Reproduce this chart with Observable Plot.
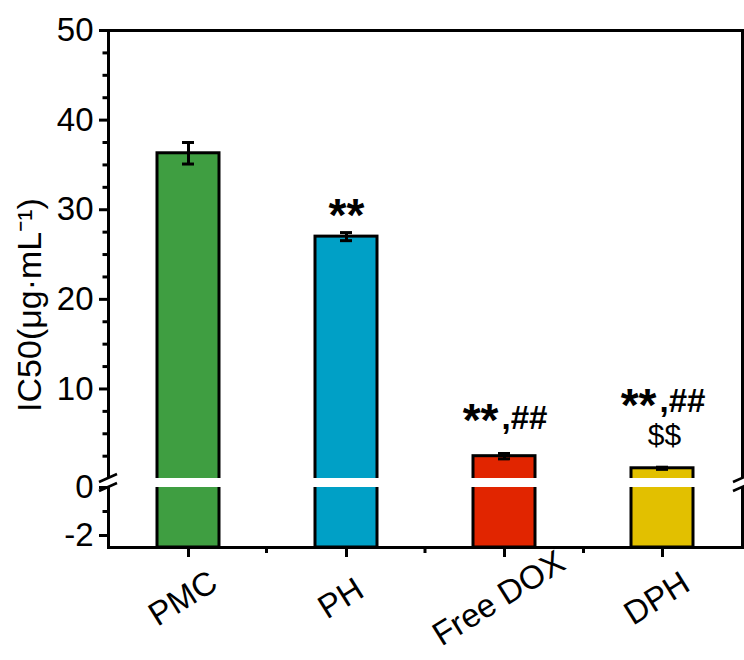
<!DOCTYPE html>
<html>
<head>
<meta charset="utf-8">
<script src="https://cdn.jsdelivr.net/npm/d3@7"></script>
<script src="https://cdn.jsdelivr.net/npm/@observablehq/plot@0.6"></script>
<style>
  html, body { margin: 0; padding: 0; background: #fff; }
</style>
</head>
<body>
<div id="chart"></div>
<script>
// ---- data ----
const categories = ["PMC", "PH", "Free DOX", "DPH"];
const ic50 = [36.3, 27.0, 2.5, 1.15];
const sd = [1.2, 0.45, 0.3, 0.12];
const barColors = ["#3f9e41", "#00a0c6", "#e12500", "#e2c000"];
const sigStars = ["", "**", "**", "**"];
const sigHash = ["", "", ",##", ",##"];
const sigDollar = ["", "", "", "$$"];
const yMajorTicks = [-2, 0, 10, 20, 30, 40, 50];
const yMinorTicks = [-1, 2.5, 5, 7.5, 12.5, 15, 17.5, 22.5, 25, 27.5, 32.5, 35, 37.5, 42.5, 45, 47.5];
const yLabel = "IC50(μg·mL⁻¹)";

// broken axis: lower segment [-2.5, 0], upper segment [0, 50]
const yMin = -2.5, yBreakLow = 0, yBreakHigh = 0.01, yMax = 50;

const rows = categories.map((c, i) => ({
  cat: c, value: ic50[i], err: sd[i], color: barColors[i],
  stars: sigStars[i], hash: sigHash[i], dollar: sigDollar[i]
}));

// ---- layout ----
const W = 744, H = 660;
const mt = 30, mr = 2, mb = 113, ml = 108;
const yBottomPx = H - mb;
const yLowerTopPx = yBottomPx - 60;
const yUpperBottomPx = yLowerTopPx - 9;

const barTop = d => d.value + d.err;

function sigMarks(filter, dyStars, dyHash, dyDollar) {
  const data = rows.filter(filter);
  const hasHash = data.length && data[0].hash;
  const marks = [
    Plot.text(data, {x: "cat", y: barTop, text: "stars", fontSize: 46, fontWeight: "bold",
      lineAnchor: "bottom", textAnchor: hasHash ? "end" : "middle", dx: hasHash ? -6 : 0, dy: dyStars})
  ];
  if (hasHash) marks.push(
    Plot.text(data, {x: "cat", y: barTop, text: "hash", fontSize: 33, fontWeight: "bold",
      lineAnchor: "bottom", textAnchor: "start", dx: -3, dy: dyHash}));
  if (dyDollar != null) marks.push(
    Plot.text(data, {x: "cat", y: barTop, text: "dollar", fontSize: 30,
      lineAnchor: "bottom", dx: 2, dy: dyDollar}));
  return marks;
}

const breakMarks = (index, scales, values, dim) => {
  const g = d3.create("svg:g").attr("stroke", "black").attr("stroke-width", 2.5);
  const ys = [scales.y(yBreakLow), scales.y(yBreakHigh)];
  for (const x of [dim.marginLeft, dim.width - dim.marginRight]) {
    for (const y of ys) {
      g.append("line").attr("x1", x - 9).attr("y1", y + 4).attr("x2", x + 9).attr("y2", y - 4);
    }
  }
  return g.node();
};

const minorXTicks = (index, scales, values, dim) => {
  const g = d3.create("svg:g").attr("stroke", "black").attr("stroke-width", 3);
  const n = categories.length;
  const step = (dim.width - dim.marginLeft - dim.marginRight) / n;
  const yb = dim.height - dim.marginBottom;
  for (let i = 1; i < n; i++) {
    const x = dim.marginLeft + i * step;
    g.append("line").attr("x1", x).attr("x2", x).attr("y1", yb).attr("y2", yb + 6);
  }
  return g.node();
};

const chart = Plot.plot({
  width: W, height: H,
  marginTop: mt, marginRight: mr, marginBottom: mb, marginLeft: ml,
  style: {fontFamily: "'Liberation Sans', Arial, sans-serif", fontSize: "32px", color: "black", background: "white", overflow: "visible"},
  x: {type: "band", domain: categories, padding: 0},
  y: {type: "linear", domain: [yMin, yBreakLow, yBreakHigh, yMax], range: [yBottomPx, yLowerTopPx, yUpperBottomPx, mt]},
  color: {type: "identity"},
  marks: [
    Plot.barY(rows, {x: "cat", y1: yMin, y2: "value", fill: "color", stroke: "black", strokeWidth: 3, insetLeft: 48, insetRight: 48}),
    Plot.ruleX(rows, {x: "cat", y1: d => d.value - d.err, y2: d => d.value + d.err, strokeWidth: 3}),
    Plot.tickY(rows, {x: "cat", y: d => d.value + d.err, strokeWidth: 3, insetLeft: 73, insetRight: 73}),
    Plot.tickY(rows, {x: "cat", y: d => d.value - d.err, strokeWidth: 3, insetLeft: 73, insetRight: 73}),
    Plot.frame({stroke: "black", strokeWidth: 3}),
    Plot.rectY([0], {y1: yBreakLow, y2: yBreakHigh, fill: "white", insetLeft: -6, insetRight: -6}),
    breakMarks,
    Plot.axisY(yMajorTicks, {tickSize: 9, tickPadding: 6, strokeWidth: 3, fontSize: 33, tickFormat: d => String(d), label: null}),
    Plot.axisY(yMinorTicks, {tickSize: 5.5, strokeWidth: 3, tickFormat: () => "", label: null}),
    Plot.axisX({tickSize: 10, strokeWidth: 3, tickFormat: () => "", label: null}),
    minorXTicks,
    Plot.text(categories, {x: d => d, frameAnchor: "bottom", dy: 60, rotate: -32, fontSize: 33}),
    Plot.text([yLabel], {frameAnchor: "left", textAnchor: "middle", dx: -78, dy: 16, rotate: -90, fontSize: 34}),
    ...sigMarks(d => d.stars && !d.hash, -2),
    ...sigMarks(d => d.hash && !d.dollar, -17, -24),
    ...sigMarks(d => d.hash && d.dollar, -46, -55, -22)
  ]
});

document.getElementById("chart").appendChild(chart);
</script>
</body>
</html>
